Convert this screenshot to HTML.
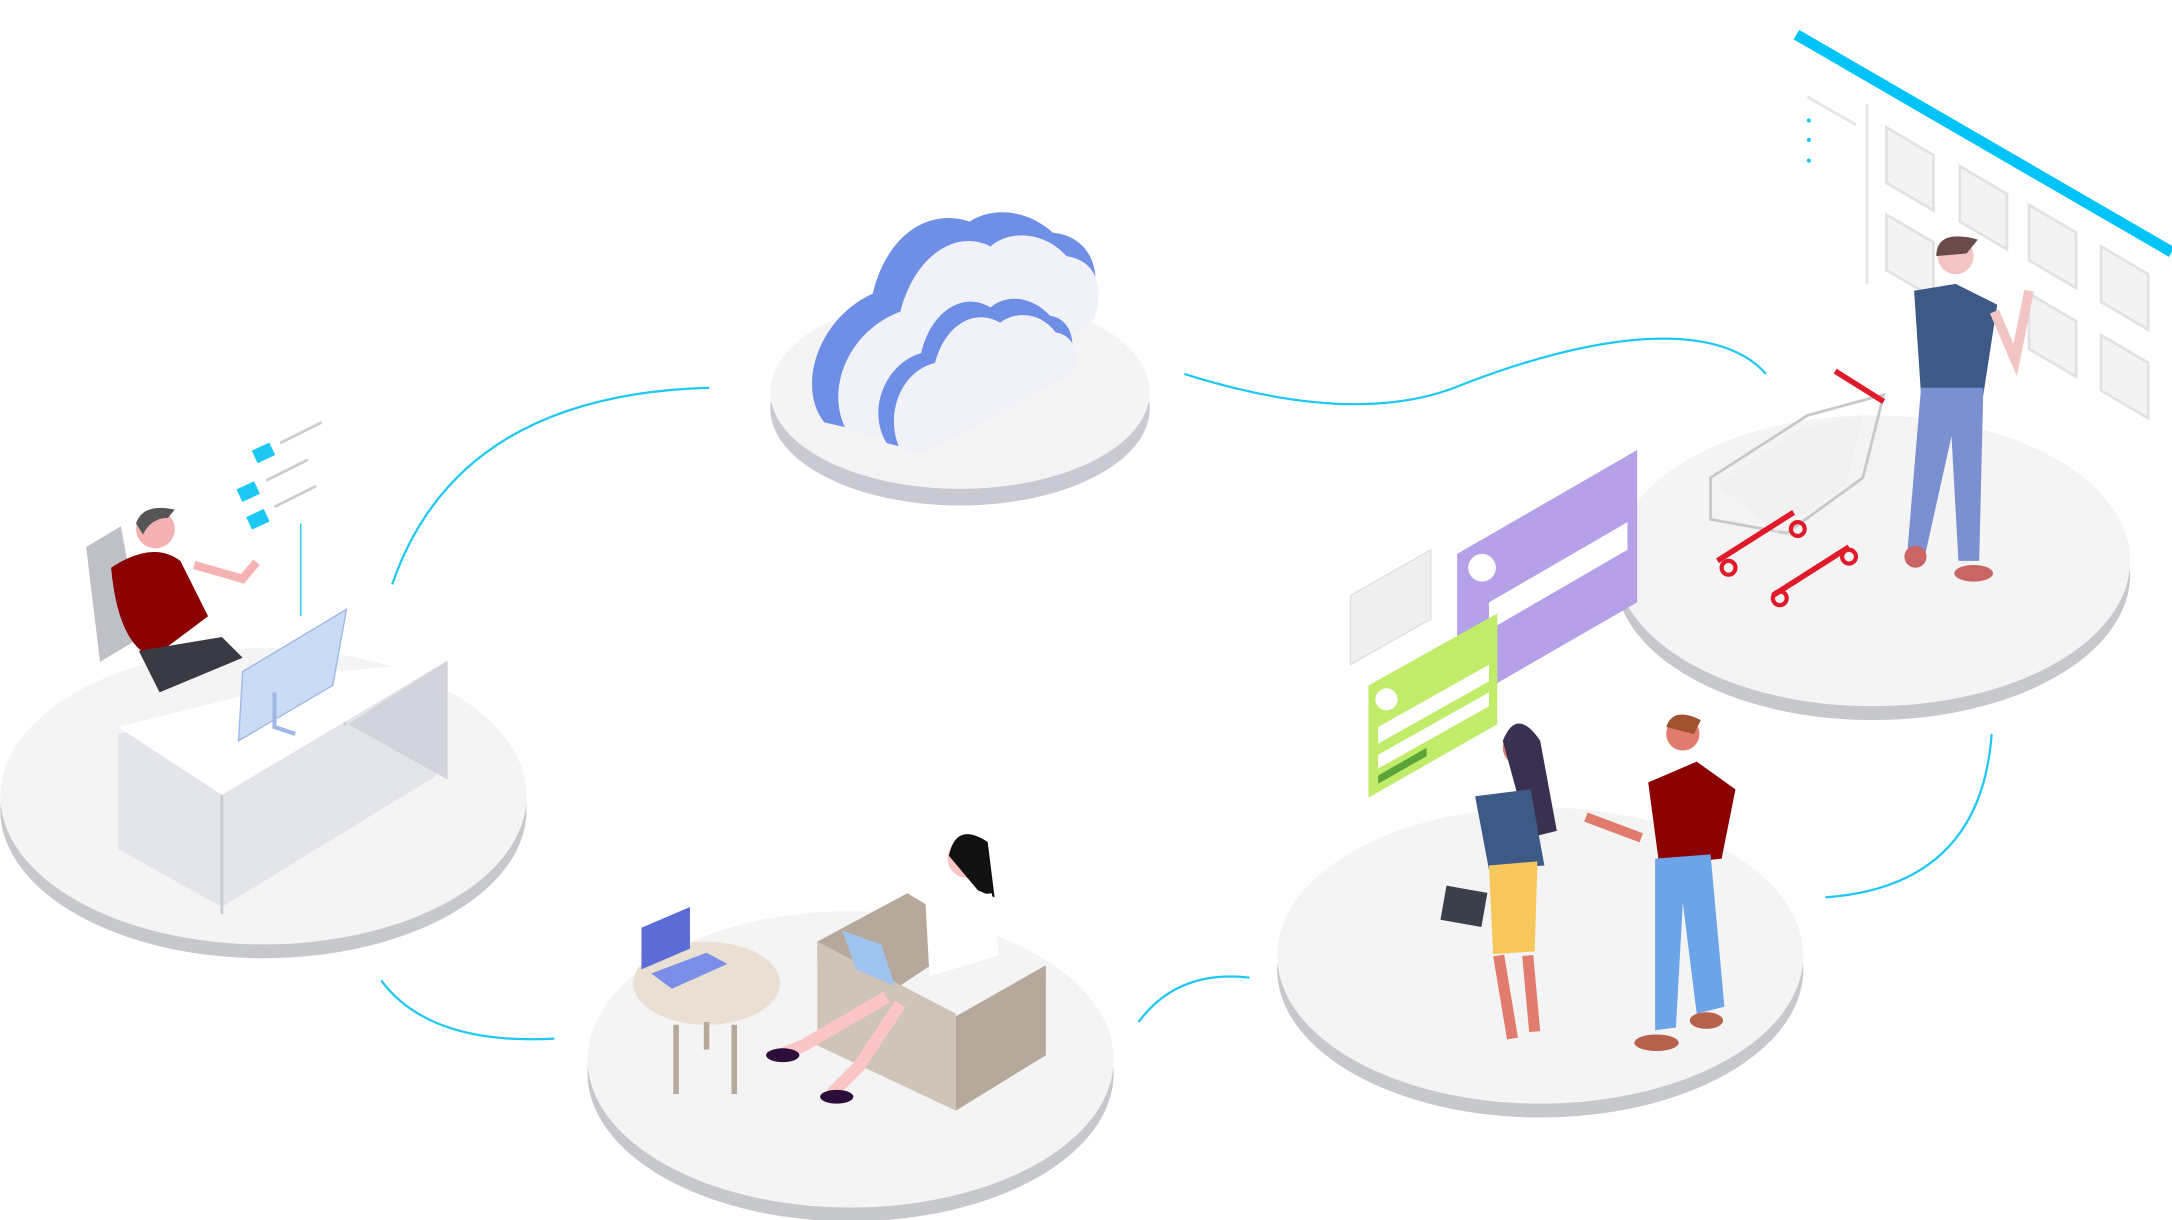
<!DOCTYPE html>
<html><head><meta charset="utf-8"><style>
html,body{margin:0;padding:0;background:#fff;}
svg{display:block;}
</style></head><body>
<svg width="2172" height="1220" viewBox="0 0 1568 881" xmlns="http://www.w3.org/2000/svg">
<rect width="1568" height="881" fill="#fff"/>
<!-- connectors -->
<g fill="none" stroke="#1ec8f5" stroke-width="1.6">
<path d="M283,422 Q330,285 512,280"/>
<path d="M275,708 Q310,755 400,750"/>
<path d="M822,738 Q850,700 902,706"/>
<path d="M855,270 C950,300 1010,295 1050,280 C1150,240 1240,230 1275,270"/>
<path d="M1438,530 Q1430,640 1318,648"/>
</g>
<!-- wall display top right -->
<line x1="1297" y1="25" x2="1568" y2="182" stroke="#00c3f7" stroke-width="8"/>
<g fill="#f3f3f3" stroke="#e2e2e2" stroke-width="2">
<path d="M1362,92 l34,20 v40 l-34,-20z"/><path d="M1415,120 l34,20 v40 l-34,-20z"/><path d="M1465,148 l34,20 v40 l-34,-20z"/><path d="M1517,178 l34,20 v40 l-34,-20z"/>
<path d="M1362,155 l34,20 v40 l-34,-20z"/><path d="M1465,212 l34,20 v40 l-34,-20z"/><path d="M1517,242 l34,20 v40 l-34,-20z"/>
</g>
<line x1="1348" y1="75" x2="1348" y2="205" stroke="#e5e5e5" stroke-width="2"/>
<line x1="1305" y1="70" x2="1340" y2="90" stroke="#e5e5e5" stroke-width="2"/>
<g fill="#1ec8f5"><circle cx="1306" cy="87" r="1.5"/><circle cx="1306" cy="101" r="1.5"/><circle cx="1306" cy="116" r="1.5"/></g>
<!-- platforms -->
<g>
<ellipse cx="190" cy="585" rx="190" ry="107" fill="#c7c8cb"/><ellipse cx="190" cy="575" rx="190" ry="107" fill="#f4f4f4"/>
<ellipse cx="614" cy="775" rx="190" ry="107" fill="#c7c8cb"/><ellipse cx="614" cy="765" rx="190" ry="107" fill="#f4f4f4"/>
<ellipse cx="1112" cy="700" rx="190" ry="107" fill="#c7c8cb"/><ellipse cx="1112" cy="690" rx="190" ry="107" fill="#f4f4f4"/>
<ellipse cx="1352" cy="415" rx="186" ry="105" fill="#c7c8cb"/><ellipse cx="1352" cy="405" rx="186" ry="105" fill="#f4f4f4"/>
<ellipse cx="693" cy="295" rx="137" ry="70" fill="#c9c9d4"/><ellipse cx="693" cy="283" rx="137" ry="70" fill="#f4f4f4"/>
</g>
<!-- cloud -->
<g>
<path d="M595,305 C575,280 590,230 630,212 C640,170 670,150 700,160 C715,150 740,150 760,168 C780,170 795,185 790,215 L660,320 Z" fill="#6f8fe6"/>
<path d="M612,312 C595,285 610,240 650,225 C660,185 690,165 715,178 C730,165 755,168 770,185 C790,188 798,205 790,230 L670,320 Z" fill="#f1f2f9"/>
<path d="M640,320 C625,295 640,262 665,255 C672,225 695,210 715,222 C727,212 745,214 758,228 C772,230 778,245 772,265 L660,325 Z" fill="#6f8fe6"/>
<path d="M650,325 C638,300 650,268 675,262 C682,235 703,222 722,233 C734,224 752,226 762,240 C775,242 780,255 775,270 L668,326 Z" fill="#f1f2f9"/>
</g>
<!-- left desk scene -->
<g>
<path d="M62,395 l25,-15 l15,80 l-30,18z" fill="#bfbfc7"/>
<path d="M80,410 q30,-20 50,-5 l20,40 l-40,30 q-25,-10 -30,-65z" fill="#8b0000"/>
<circle cx="112" cy="382" r="14" fill="#f5b2b2"/><path d="M98,378 q5,-15 28,-10 l-5,6 q-12,0 -18,12z" fill="#555"/>
<path d="M140,408 l35,10 l10,-12" stroke="#f5b2b2" stroke-width="6" fill="none"/>
<path d="M100,470 l60,-10 l15,15 l-60,25z" fill="#3a3a44"/>
<path d="M85,530 l230,-50 v80 l-155,95 l-75,-42z" fill="#e3e5ea"/>
<path d="M85,525 l160,-40 l78,-8 l-163,97z" fill="#fff"/>
<path d="M248,525 l75,-48 v86 l-75,-42z" fill="#d2d3dc"/>
<path d="M160,574 v86" stroke="#c9cbd2" stroke-width="2"/>
<path d="M175,485 l75,-45 l-10,55 l-68,40z" fill="#c9dbf5" stroke="#9fb8e6"/>
<path d="M198,500 l0,25 l15,5" stroke="#9fb8e6" stroke-width="3" fill="none"/>
<g fill="#1ec8f5"><rect x="183" y="322" width="14" height="10" transform="rotate(-25 190 327)"/><rect x="172" y="350" width="14" height="10" transform="rotate(-25 179 355)"/><rect x="179" y="370" width="14" height="10" transform="rotate(-25 186 375)"/></g>
<g stroke="#ccc" stroke-width="2"><line x1="202" y1="320" x2="232" y2="305"/><line x1="192" y1="347" x2="222" y2="332"/><line x1="198" y1="366" x2="228" y2="351"/></g>
<line x1="217" y1="378" x2="217" y2="445" stroke="#1ec8f5"/>
</g>
<!-- bottom middle: woman on sofa -->
<g>
<ellipse cx="510" cy="710" rx="53" ry="30" fill="#eadfd3"/>
<path d="M488,740 v50 M530,740 v50 M510,738 v20" stroke="#b6a99c" stroke-width="4"/>
<path d="M463,700 l0,-30 l35,-15 l0,30z" fill="#5c6bd6"/><path d="M470,703 l40,-15 l15,8 l-40,18z" fill="#7a8ee8"/>
<path d="M590,680 l65,-35 l50,30 l-60,40 l-55,-20z" fill="#b6a99c"/>
<path d="M590,680 v75 l100,47 v-70z" fill="#cfc4b8"/>
<path d="M690,802 l65,-40 v-65 l-65,37z" fill="#b6a99c"/>
<circle cx="698" cy="620" r="14" fill="#fbc5c5"/><path d="M685,618 q5,-25 28,-10 l5,40 l-12,-5z" fill="#111"/>
<path d="M668,650 l48,-5 l5,45 l-50,15z" fill="#fff"/>
<path d="M608,672 l28,10 l10,30 l-28,-12z" fill="#9fc4ef"/>
<path d="M640,720 l-60,35 l-20,8 M650,725 l-30,45 l-20,20" stroke="#fbc5c5" stroke-width="9" fill="none"/>
<ellipse cx="565" cy="762" rx="12" ry="5" fill="#2d0d3a"/><ellipse cx="604" cy="792" rx="12" ry="5" fill="#2d0d3a"/>
</g>
<!-- right middle cards and people -->
<g>
<path d="M1052,400 l130,-75 v110 l-130,75z" fill="#b6a1e8"/>
<circle cx="1070" cy="410" r="10" fill="#fff"/>
<path d="M1075,435 l100,-58 v20 l-100,58z" fill="#fff"/>
<path d="M975,430 l58,-33 v50 l-58,33z" fill="#efefef" stroke="#e0e0e0"/>
<path d="M988,495 l93,-52 v80 l-93,53z" fill="#c1ec6a"/>
<circle cx="1001" cy="505" r="8" fill="#fff"/>
<path d="M995,525 l80,-45 v12 l-80,45z" fill="#fff"/>
<path d="M995,545 l80,-45 v10 l-80,45z" fill="#fff"/>
<path d="M995,560 l35,-20 v6 l-35,20z" fill="#5aa43a"/>
<!-- woman -->
<circle cx="1098" cy="540" r="13" fill="#e07b6e"/><path d="M1085,535 q10,-25 27,0 l12,65 l-20,5z" fill="#3a3150"/>
<path d="M1065,575 l40,-5 l10,55 l-40,3z" fill="#3c5a85"/>
<path d="M1075,625 l35,-3 l-2,65 l-30,2z" fill="#f7c75b"/>
<path d="M1082,690 l10,60 M1103,690 l5,55" stroke="#e07b6e" stroke-width="8"/>
<rect x="1042" y="642" width="30" height="25" fill="#3a3f4a" transform="rotate(10 1057 654)"/>
<!-- man -->
<circle cx="1215" cy="530" r="12" fill="#e07b6e"/><path d="M1203,525 q5,-15 25,-5 l-5,10z" fill="#a0522d"/>
<path d="M1190,565 l35,-15 l28,20 l-10,50 l-45,5z" fill="#8b0000"/>
<path d="M1195,620 l40,-3 l10,110 l-20,5 l-10,-80 l-5,90 l-15,2z" fill="#6ba5e8"/>
<path d="M1185,605 l-40,-15" stroke="#e07b6e" stroke-width="7"/>
<ellipse cx="1196" cy="753" rx="16" ry="6" fill="#b5614b"/><ellipse cx="1232" cy="737" rx="12" ry="6" fill="#b5614b"/>
</g>
<!-- top right: cart and man -->
<g>
<path d="M1235,345 l70,-45 l55,-15 l-15,60 l-55,40 l-55,-10z" fill="none" stroke="#c8c8c8" stroke-width="2"/>
<path d="M1240,350 l60,-40 l45,-10 l-12,50 l-50,35z" fill="#eee" opacity="0.5"/>
<path d="M1325,268 l35,22 M1240,405 l55,-35 M1280,430 l55,-35" stroke="#e01a2a" stroke-width="4"/>
<g fill="none" stroke="#e01a2a" stroke-width="3"><circle cx="1248" cy="410" r="5"/><circle cx="1285" cy="432" r="5"/><circle cx="1335" cy="402" r="5"/><circle cx="1298" cy="382" r="5"/></g>
<circle cx="1412" cy="185" r="13" fill="#f2c4c4"/><path d="M1398,185 q0,-20 30,-12 l-8,10z" fill="#6b4a4a"/>
<path d="M1382,210 l30,-5 l30,15 l-10,65 l-45,0z" fill="#3c5a85"/>
<path d="M1440,225 l15,35 l10,-50" stroke="#f2c4c4" stroke-width="7" fill="none"/>
<path d="M1387,280 l45,0 l-3,125 l-15,0 l-5,-90 l-20,90 l-12,-5z" fill="#7b90d0"/>
<ellipse cx="1383" cy="402" rx="8" ry="8" fill="#c96565"/><ellipse cx="1425" cy="414" rx="14" ry="6" fill="#c96565"/>
</g>
</svg>
</body></html>
